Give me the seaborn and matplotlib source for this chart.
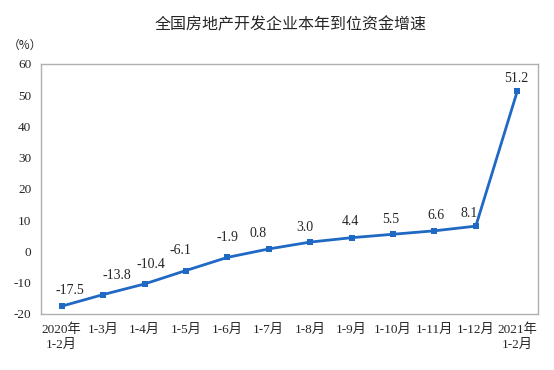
import matplotlib
matplotlib.use("Agg")
import matplotlib.pyplot as plt
import seaborn as sns
import pandas as pd
import numpy as np

months = ["2020年\n1-2月", "1-3月", "1-4月", "1-5月", "1-6月", "1-7月", "1-8月",
          "1-9月", "1-10月", "1-11月", "1-12月", "2021年\n1-2月"]
growth = [-17.5, -13.8, -10.4, -6.1, -1.9, 0.8, 3.0, 4.4, 5.5, 6.6, 8.1, 51.2]
yticks = [-20, -10, 0, 10, 20, 30, 40, 50, 60]

# label nudges (pixels) so the value labels sit like the original
label_dx = [8, 14, 6, -5, 0, -11, -5, -1, -2, 2, -7, -1]
label_dy = [16, 19, 19, 20, 20, 15, 15, 16, 15, 15, 13, 13]

sns.set_style("white")
serif = ["Liberation Serif", "Noto Sans CJK SC"]
plt.rcParams["font.family"] = serif

df = pd.DataFrame({"pos": np.arange(len(months)), "growth": growth})

fig = plt.figure(figsize=(5.54, 3.70), dpi=100)
ax = fig.add_axes([0.074, 0.1514, 0.897, 0.676])
sns.lineplot(data=df, x="pos", y="growth", ax=ax, color="#1f68c4", linewidth=2.0,
             marker="s", markersize=4.2, markeredgewidth=0)

for x, y, dx, dy in zip(df["pos"], df["growth"], label_dx, label_dy):
    ax.annotate(f"{y:.1f}", (x, y), xytext=(dx, dy), textcoords="offset pixels",
                ha="center", va="center", fontsize=10, family=serif)

ax.set_xlim(-0.5, len(months) - 0.5)
ax.set_ylim(-20, 60)
ax.set_yticks(yticks)
ax.set_yticklabels([str(t) for t in yticks], fontsize=9.5)
ax.set_xticks(df["pos"])
ax.set_xticklabels(months, fontsize=9.5, linespacing=1.3)
ax.set_xticks(np.arange(0.5, len(months) - 1, 1), minor=True)
ax.tick_params(axis="x", which="major", length=0, pad=7)
ax.tick_params(axis="x", which="minor", direction="in", length=4, color="#aaaaaa")
ax.tick_params(axis="y", direction="in", length=3, color="#aaaaaa", pad=7)
ax.set_xlabel("")
ax.set_ylabel("")
for s in ax.spines.values():
    s.set_color("#b0b0b0")
    s.set_linewidth(1.0)

fig.text(0.524, 0.932, "全国房地产开发企业本年到位资金增速", ha="center", va="center",
         fontsize=11.5, family=["Noto Sans CJK SC", "DejaVu Sans"])
fig.text(0.045, 0.878, "（%）", ha="center", va="center", fontsize=8.5,
         family=["Noto Sans CJK SC", "DejaVu Sans"])

fig.savefig("out.png", dpi=100)
